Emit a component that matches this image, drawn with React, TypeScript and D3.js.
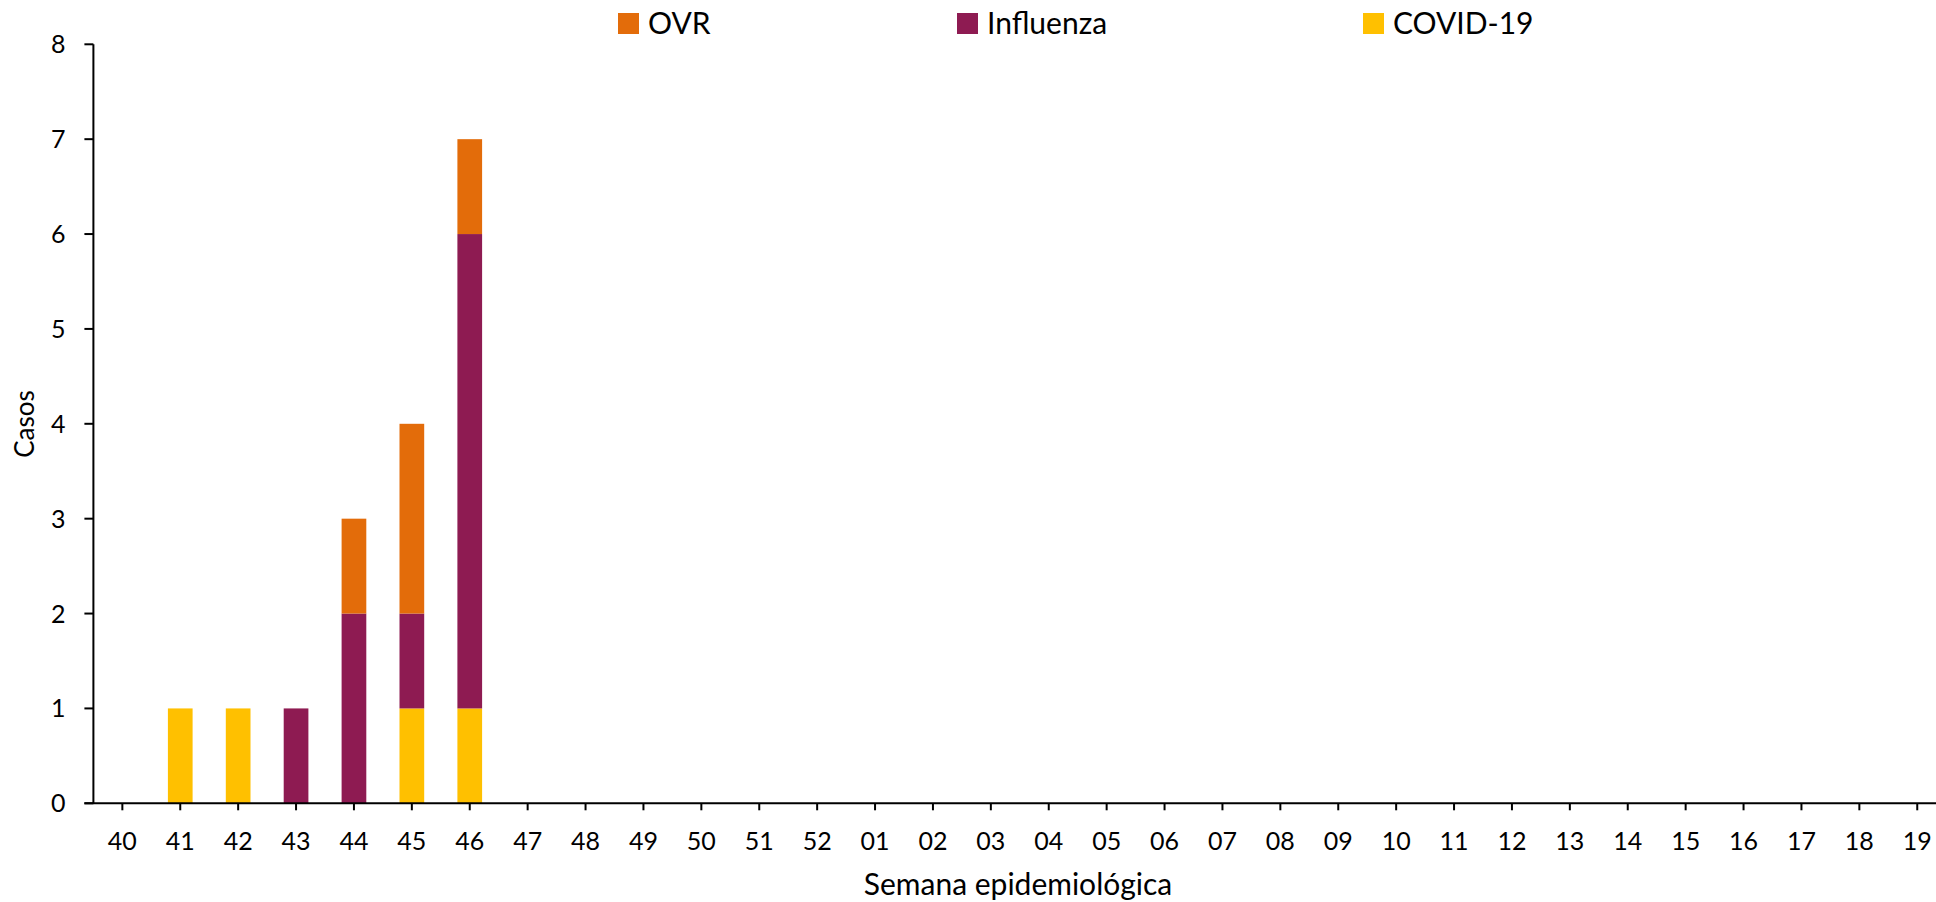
import React from "react";
import * as d3 from "d3";

const weeks = ["40","41","42","43","44","45","46","47","48","49","50","51","52","01","02","03","04","05","06","07","08","09","10","11","12","13","14","15","16","17","18","19"];
const covid =     [0,1,1,0,0,1,1,0,0,0,0,0,0,0,0,0,0,0,0,0,0,0,0,0,0,0,0,0,0,0,0,0];
const influenza = [0,0,0,1,2,1,5,0,0,0,0,0,0,0,0,0,0,0,0,0,0,0,0,0,0,0,0,0,0,0,0,0];
const ovr =       [0,0,0,0,1,2,1,0,0,0,0,0,0,0,0,0,0,0,0,0,0,0,0,0,0,0,0,0,0,0,0,0];
const yTicks = [0,1,2,3,4,5,6,7,8];

const seriesKeys = ["COVID-19", "Influenza", "OVR"];
const colors: Record<string,string> = { "COVID-19": "#FFC000", "Influenza": "#8E1B52", "OVR": "#E36C0A" };
const legendOrder = ["OVR", "Influenza", "COVID-19"];

const W = 1936, H = 902;
const FONT = "Lato, 'Open Sans', sans-serif";

export default function App() {
  const rows = weeks.map((w, i) => ({ week: w, "COVID-19": covid[i], "Influenza": influenza[i], "OVR": ovr[i] }));
  const stacked = d3.stack<any>().keys(seriesKeys)(rows);

  const axisX = 93.4;
  const step = 57.9;
  const x = d3.scaleBand<string>().domain(weeks).range([axisX, axisX + step * weeks.length]).padding(0);
  const y = d3.scaleLinear().domain([0, 8]).range([803.3, 44.3]);
  const barW = 24.7;

  const legendX = [618, 957, 1363];

  return (
    <svg width={W} height={H} style={{ position: "absolute", left: 0, top: 0, background: "#fff" }} fontFamily={FONT}>
      <rect x={0} y={0} width={W} height={H} fill="#fff" />
      {stacked.map((s) => (
        <g key={s.key} fill={colors[s.key]}>
          {s.map((d, i) => {
            const h = y(d[0]) - y(d[1]);
            if (h <= 0) return null;
            const cx = (x(weeks[i]) as number) + x.bandwidth() / 2;
            return <rect key={i} x={cx - barW / 2} y={y(d[1])} width={barW} height={h} />;
          })}
        </g>
      ))}
      {/* y axis */}
      <line x1={axisX} x2={axisX} y1={y(8)} y2={y(0)} stroke="#000" strokeWidth={2} />
      {yTicks.map((t) => (
        <g key={t}>
          <line x1={axisX - 9} x2={axisX} y1={y(t)} y2={y(t)} stroke="#000" strokeWidth={2} />
          <text x={65.5} y={y(t)} dy="0.36em" textAnchor="end" fontSize={25} fill="#000">{t}</text>
        </g>
      ))}
      {/* x axis */}
      <line x1={axisX - 9} x2={W} y1={y(0)} y2={y(0)} stroke="#000" strokeWidth={2} />
      {weeks.map((w) => {
        const cx = (x(w) as number) + x.bandwidth() / 2;
        return (
          <g key={w}>
            <line x1={cx} x2={cx} y1={y(0)} y2={y(0) + 7} stroke="#000" strokeWidth={2} />
            <text x={cx} y={850} textAnchor="middle" fontSize={25} fill="#000">{w}</text>
          </g>
        );
      })}
      <text x={1018} y={895} textAnchor="middle" fontSize={30} fill="#000">Semana epidemiológica</text>
      <text transform={`translate(34,424) rotate(-90)`} textAnchor="middle" fontSize={26} fill="#000">Casos</text>
      {legendOrder.map((k, i) => (
        <g key={k}>
          <rect x={legendX[i]} y={13} width={21} height={21} fill={colors[k]} />
          <text x={legendX[i] + 30} y={34} fontSize={30} fill="#000">{k}</text>
        </g>
      ))}
    </svg>
  );
}
